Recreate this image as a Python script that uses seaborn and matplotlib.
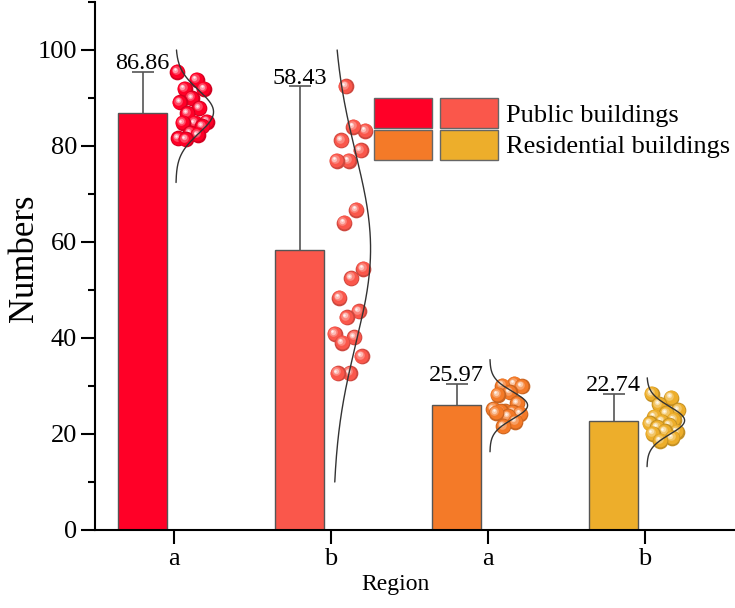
import numpy as np
import pandas as pd
import seaborn as sns
import matplotlib
matplotlib.use("Agg")
import matplotlib.pyplot as plt
from matplotlib.patches import Patch
from matplotlib.legend_handler import HandlerTuple
from matplotlib.transforms import offset_copy
from matplotlib.ticker import MultipleLocator
from matplotlib.colors import to_rgb

# ---- data ----
categories = ["a", "b", "a", "b"]
building_types = ["Public buildings", "Public buildings",
                  "Residential buildings", "Residential buildings"]
means = [86.86, 58.43, 25.97, 22.74]

public_a = [95.5, 93.8, 91.9, 91.9, 90.0, 89.1, 87.9, 86.8,
            85.1, 84.8, 84.8, 84.1, 82.7, 81.6, 82.3, 81.4]
public_b = [92.4, 83.2, 84.0, 81.2, 79.1, 76.9, 76.9, 66.7, 64.0, 54.4,
            52.5, 48.4, 45.6, 44.3, 40.9, 40.2, 39.0, 36.2, 32.7, 32.7]
residential_a = [30.5, 30.1, 29.9, 28.7, 28.2, 26.4, 24.7, 25.2,
                 24.5, 24.7, 24.2, 23.7, 24.4, 22.6, 21.6]
residential_b = [28.4, 27.6, 26.2, 25.0, 24.3, 23.6, 23.0, 22.6,
                 22.2, 21.8, 21.4, 20.5, 20.6, 20.1, 19.2, 18.6]
samples = [public_a, public_b, residential_a, residential_b]

# value range covered by each fitted normal curve
curve_lo = [72.4, 10.0, 16.3, 13.2]
curve_hi = [100.0, 100.0, 35.5, 31.7]

colors = ["#FF0027", "#FA574B", "#F47A28", "#EDAE2B"]

# ---- style ----
sns.set_style("ticks")
plt.rcParams["font.family"] = ["Liberation Serif", "DejaVu Serif"]
plt.rcParams.update({"text.color": "black", "axes.labelcolor": "black",
                     "xtick.color": "black", "ytick.color": "black"})

fig = plt.figure(figsize=(7.35, 6.08), dpi=100)
ax = fig.add_axes([95 / 735, 1 - 530 / 608, 640 / 735, 528 / 608])

positions = np.arange(len(categories))
bar_shift = -0.2
df = pd.DataFrame({
    "pos": positions + bar_shift,
    "value": means,
    "key": [f"{t} {c}" for t, c in zip(building_types, categories)],
})

sns.barplot(data=df, x="pos", y="value", hue="key", palette=colors,
            native_scale=True, width=0.31, dodge=False, errorbar=None,
            legend=False, saturation=1, edgecolor="#555555", linewidth=1.0,
            ax=ax, zorder=2)

# upper error bars reaching the largest observation
tops = [max(s) for s in samples]
upper = [t - m for t, m in zip(tops, means)]
_, caps, _ = ax.errorbar(positions + bar_shift, means,
                         yerr=[np.zeros(len(means)), upper],
                         fmt="none", ecolor="#555555", elinewidth=1.2,
                         capsize=8, capthick=1.2, zorder=3)
caps[0].set_visible(False)  # no cap at the bar top

for p, m, t in zip(positions, means, tops):
    ax.annotate(f"{m:.2f}", xy=(p + bar_shift, t), xytext=(0, 2),
                textcoords="offset points", ha="center", va="baseline",
                fontsize=17.5, color="black", zorder=5)


# ---- shaded balls ----
def mix(c, f):
    r = np.array(to_rgb(c))
    return tuple(r + (1 - r) * f)


def dark(c, f):
    return tuple(np.array(to_rgb(c)) * f)


diam = 11.3  # points
layers = [
    (1.00, lambda c: dark(c, 0.82), 0.0, 0.0),
    (0.88, lambda c: to_rgb(c), -0.5, 0.5),
    (0.55, lambda c: mix(c, 0.28), -1.6, 1.6),
    (0.34, lambda c: mix(c, 0.60), -2.1, 2.1),
    (0.16, lambda c: mix(c, 0.92), -2.4, 2.4),
]
layer_tf = [offset_copy(ax.transData, fig=fig, x=dx, y=dy, units="dots")
            for _, _, dx, dy in layers]

golden = 0.6180339887
for gi, (p, vals, col) in enumerate(zip(positions, samples, colors)):
    vals = np.asarray(vals)
    n = len(vals)
    jitter = 0.02 + 0.2 * ((np.arange(n) * golden + 0.37 * gi) % 1.0)
    xs = p + jitter
    for x, y in zip(xs, vals):
        for (frac, cf, _, _), tf in zip(layers, layer_tf):
            ax.scatter([x], [y], s=(diam * frac) ** 2, color=cf(col),
                       linewidths=0, transform=tf, zorder=4)

    # fitted normal curve, drawn sideways
    mu, sd = vals.mean(), vals.std(ddof=1)
    yy = np.linspace(curve_lo[gi], curve_hi[gi], 200)
    dens = np.exp(-0.5 * ((yy - mu) / sd) ** 2)
    ax.plot(p + 0.012 + 0.24 * dens, yy, color="#333333", lw=1.0, zorder=6)

# ---- axes ----
ax.set_xlim(-0.503, 3.573)
ax.set_ylim(0, 110)
ax.set_xticks(positions, categories)
ax.set_yticks(np.arange(0, 101, 20))
ax.yaxis.set_minor_locator(MultipleLocator(10))
ax.tick_params(axis="both", which="major", direction="out", length=10,
               width=1.5, labelsize=19, pad=3, color="black",
               labelcolor="black")
ax.tick_params(axis="y", which="minor", direction="out", length=5,
               width=1.5, color="black")
ax.tick_params(axis="x", which="minor", length=0)
for side in ["left", "bottom"]:
    ax.spines[side].set_linewidth(1.5)
    ax.spines[side].set_color("black")
sns.despine(ax=ax)

ax.set_ylabel("Numbers", fontsize=25, color="black")
ax.yaxis.set_label_coords(-0.085, 0.515)
ax.set_xlabel("Region", fontsize=17, color="black")
ax.xaxis.set_label_coords(0.47, -0.083)

# ---- legend ----
h_public = (Patch(facecolor=colors[0], edgecolor="#666666", linewidth=1),
            Patch(facecolor=colors[1], edgecolor="#666666", linewidth=1))
h_resid = (Patch(facecolor=colors[2], edgecolor="#666666", linewidth=1),
           Patch(facecolor=colors[3], edgecolor="#666666", linewidth=1))
leg = ax.legend([h_public, h_resid], ["Public buildings", "Residential buildings"],
                handler_map={tuple: HandlerTuple(ndivide=None, pad=0.3)},
                loc="upper left", bbox_to_anchor=(0.436, 0.818), frameon=False,
                fontsize=19, handlelength=4.7, handleheight=1.37,
                handletextpad=0.3, labelspacing=0.06, borderpad=0,
                borderaxespad=0)
for t in leg.get_texts():
    t.set_color("black")

fig.savefig("out.png", dpi=100)
